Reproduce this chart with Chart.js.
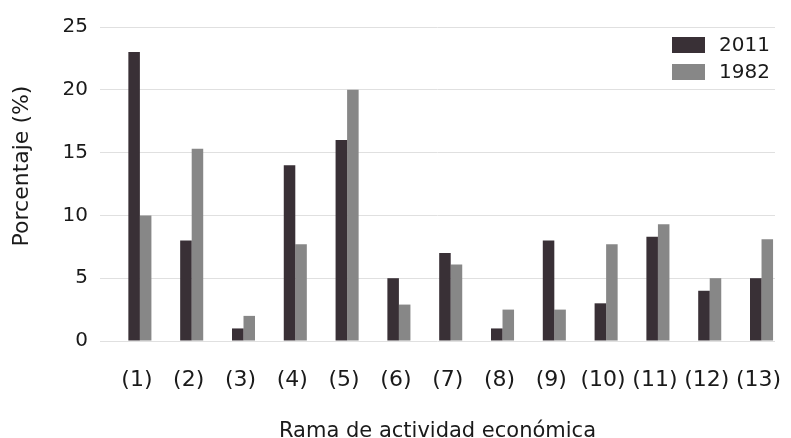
<!DOCTYPE html>
<html>
<head>
<meta charset="utf-8">
<script src="https://cdn.jsdelivr.net/npm/chart.js@4/dist/chart.umd.min.js"></script>
<style>
  html, body { margin: 0; padding: 0; background: #ffffff; }
  #wrap { width: 791px; height: 438px; }
</style>
</head>
<body>
<div id="wrap"><canvas id="chart" width="791" height="438"></canvas></div>
<script>
// Ramas de actividad económica (1)–(13)
const categories = ['(1)', '(2)', '(3)', '(4)', '(5)', '(6)', '(7)', '(8)', '(9)', '(10)', '(11)', '(12)', '(13)'];
// Participación porcentual por rama
const values2011 = [23, 8, 1, 14, 16, 5, 7, 1, 8, 3, 8.3, 4, 5];
const values1982 = [10, 15.3, 2, 7.7, 20, 2.9, 6.1, 2.5, 2.5, 7.7, 9.3, 5, 8.1];
const seriesNames = ['2011', '1982'];
const yTicks = [0, 5, 10, 15, 20, 25];

const FONT = 'DejaVu Sans';
const TEXT = '#1a1a1a';
const DARK = '#393036';
const GRAY = '#878787';

const toPoints = arr => arr.map((v, i) => ({ x: i, y: v }));

// Legend drawn in the upper-right corner of the plot area
const cornerLegend = {
  id: 'cornerLegend',
  afterDraw(chart) {
    const { ctx, chartArea } = chart;
    ctx.save();
    ctx.font = '20px "' + FONT + '"';
    ctx.textBaseline = 'middle';
    ctx.textAlign = 'left';
    chart.data.datasets.forEach((ds, i) => {
      const rowY = chartArea.top + 18 + i * 27;
      ctx.fillStyle = ds.backgroundColor;
      ctx.fillRect(chartArea.right - 103, rowY - 8, 33, 16);
      ctx.fillStyle = TEXT;
      ctx.fillText(ds.label, chartArea.right - 56, rowY + 1);
    });
    ctx.restore();
  }
};

// Vertical axis title, set slightly above the plot's middle
const yTitle = {
  id: 'yTitle',
  afterDraw(chart) {
    const { ctx, chartArea } = chart;
    ctx.save();
    ctx.font = '22px "' + FONT + '"';
    ctx.fillStyle = TEXT;
    ctx.textAlign = 'center';
    ctx.textBaseline = 'middle';
    ctx.translate(22, (chartArea.top + chartArea.bottom) / 2 - 18);
    ctx.rotate(-Math.PI / 2);
    ctx.fillText('Porcentaje (%)', 0, 0);
    ctx.restore();
  }
};

new Chart(document.getElementById('chart'), {
  type: 'bar',
  data: {
    datasets: [
      { label: seriesNames[0], data: toPoints(values2011), backgroundColor: DARK },
      { label: seriesNames[1], data: toPoints(values1982), backgroundColor: GRAY }
    ]
  },
  options: {
    responsive: false,
    animation: false,
    devicePixelRatio: 1,
    layout: { padding: { top: 27, right: 16, left: 0, bottom: 0 } },
    datasets: { bar: { categoryPercentage: 0.445, barPercentage: 1.0 } },
    plugins: {
      legend: { display: false },
      tooltip: { enabled: false }
    },
    scales: {
      x: {
        type: 'linear',
        offset: false,
        min: -0.77,
        max: 12.26,
        grid: { display: false, drawTicks: false },
        border: { display: false },
        afterBuildTicks: scale => { scale.ticks = categories.map((_, i) => ({ value: i })); },
        afterFit: scale => {
          scale.height = 97;
          scale.paddingLeft = 0;
          scale.paddingRight = 0;
        },
        ticks: {
          autoSkip: false,
          maxRotation: 0,
          padding: 26,
          labelOffset: -3,
          color: TEXT,
          font: { family: FONT, size: 22 },
          callback: v => categories[v]
        },
        title: {
          display: true,
          text: 'Rama de actividad económica',
          color: TEXT,
          font: { family: FONT, size: 21, lineHeight: 1.2 },
          padding: { top: 0, bottom: -6 }
        }
      },
      y: {
        min: 0,
        max: 25,
        afterBuildTicks: scale => { scale.ticks = yTicks.map(v => ({ value: v })); },
        afterFit: scale => {
          scale.width = 100;
          scale.paddingTop = 0;
          scale.paddingBottom = 0;
        },
        grid: { color: '#e0e0e0', lineWidth: 1, drawTicks: false },
        border: { display: false },
        ticks: {
          padding: 12,
          color: TEXT,
          font: { family: FONT, size: 20 }
        }
      }
    }
  },
  plugins: [cornerLegend, yTitle]
});
</script>
</body>
</html>
